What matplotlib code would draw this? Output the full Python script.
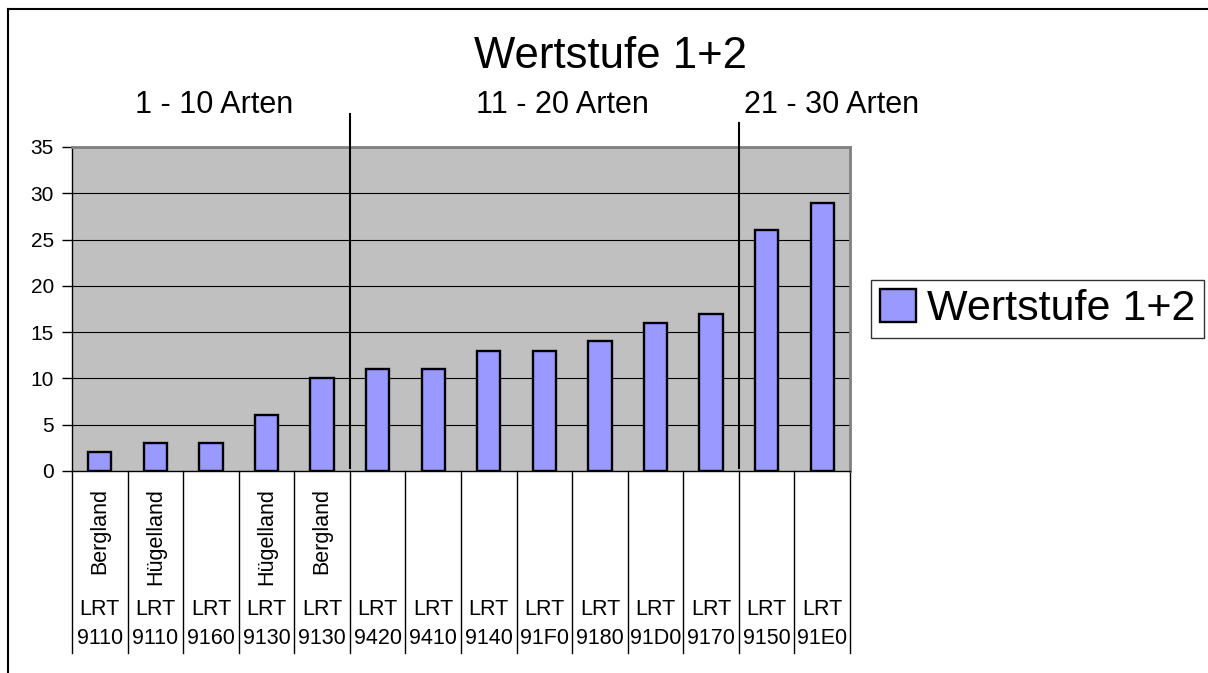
import numpy as np
import matplotlib.pyplot as plt
from matplotlib.lines import Line2D

plt.rcParams['font.family'] = ['Liberation Sans', 'DejaVu Sans']

# Data
lrt_codes = ['9110', '9110', '9160', '9130', '9130', '9420', '9410',
             '9140', '91F0', '9180', '91D0', '9170', '9150', '91E0']
regions = ['Bergland', 'Hügelland', '', 'Hügelland', 'Bergland', '', '',
           '', '', '', '', '', '', '']
values = [2, 3, 3, 6, 10, 11, 11, 13, 13, 14, 16, 17, 26, 29]
group_labels = ['1 - 10 Arten', '11 - 20 Arten', '21 - 30 Arten']
group_breaks = [4.5, 11.5]
series_name = 'Wertstufe 1+2'
y_ticks = [0, 5, 10, 15, 20, 25, 30, 35]

W, H = 1208, 673
fig = plt.figure(figsize=(W / 100, H / 100), dpi=100)
ax = fig.add_axes([72 / W, 1 - 471 / H, 778 / W, 324 / H])

x = np.arange(len(values))
ax.set_facecolor('#C0C0C0')
ax.bar(x, values, width=0.42, color='#9999FF', edgecolor='black',
       linewidth=1.7, label=series_name, zorder=3)

ax.set_xlim(-0.5, len(values) - 0.5)
ax.set_ylim(0, 35)
ax.set_yticks(y_ticks)
ax.set_yticklabels([str(t) for t in y_ticks], fontsize=15)
for t in y_ticks[1:-1]:
    ax.axhline(t, color='black', linewidth=0.8, zorder=1)
ax.tick_params(axis='y', length=7, width=1, pad=6, direction='out')
ax.set_xticks([])

for side in ['top', 'right']:
    ax.spines[side].set_color('#808080')
    ax.spines[side].set_linewidth(2)
ax.spines['left'].set_linewidth(1)
ax.spines['bottom'].set_linewidth(1)

# category separators below the axis
trans = ax.get_xaxis_transform()
for b in np.arange(-0.5, len(values), 1.0):
    ax.add_line(Line2D([b, b], [0, -182 / 324], transform=trans,
                       color='black', linewidth=1, clip_on=False))

# category labels
for i in range(len(values)):
    if regions[i]:
        ax.text(i, -17 / 324, regions[i], transform=trans, rotation=90,
                ha='center', va='top', fontsize=15.5)
    ax.text(i, -153 / 324, 'LRT\n' + lrt_codes[i], transform=trans,
            ha='center', va='center', fontsize=15.5, linespacing=1.45)

# group dividers
ax.add_line(Line2D([group_breaks[0]] * 2, [3 / 324, 357 / 324], transform=trans,
                   color='black', linewidth=1.5, clip_on=False, zorder=4))
ax.add_line(Line2D([group_breaks[1]] * 2, [3 / 324, 348 / 324], transform=trans,
                   color='black', linewidth=1.5, clip_on=False, zorder=4))

# titles
fig.text(610 / W, 1 - 57 / H, series_name, ha='center', va='center', fontsize=31.5)
for gx, lab in zip([214, 562, 832], group_labels):
    fig.text(gx / W, 1 - 105 / H, lab, ha='center', va='center', fontsize=22)

leg = fig.legend(loc='center left', bbox_to_anchor=(871 / W, 1 - 309 / H),
                 fontsize=31, frameon=True, fancybox=False, handlelength=0.85,
                 handleheight=0.8, handletextpad=0.25, borderpad=0.2,
                 borderaxespad=0)
leg.get_frame().set_edgecolor('black')
leg.get_frame().set_linewidth(1)

# outer frame
fig.add_artist(Line2D([8 / W, 8 / W], [0, 1 - 9 / H], transform=fig.transFigure,
                      color='black', linewidth=1.5))
fig.add_artist(Line2D([8 / W, 1], [1 - 9 / H, 1 - 9 / H], transform=fig.transFigure,
                      color='black', linewidth=1.5))

fig.savefig('out.png', dpi=100)
